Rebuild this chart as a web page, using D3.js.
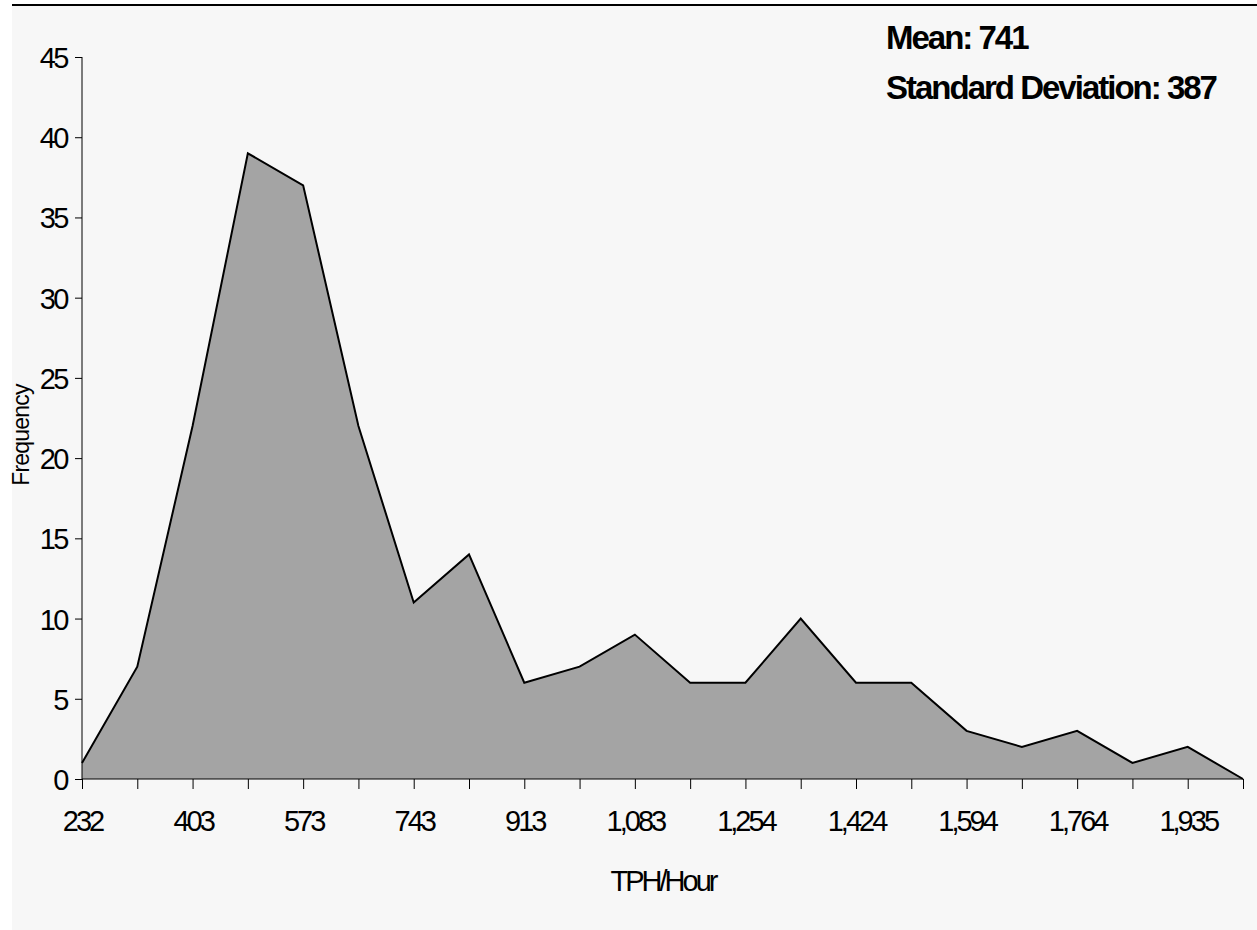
<!DOCTYPE html>
<html>
<head>
<meta charset="utf-8">
<script src="https://cdn.jsdelivr.net/npm/d3@7"></script>
<style>
  body { margin: 0; background: #fff; }
  svg text { font-family: "Liberation Sans", Arial, sans-serif; fill: #000; }
</style>
</head>
<body>
<svg id="chart" width="1257" height="930"></svg>
<script>
// bins (TPH/Hour) and counts
const bins = [232, 317, 403, 488, 573, 658, 743, 828, 913, 998, 1083, 1169, 1254, 1339, 1424, 1509, 1594, 1679, 1764, 1850, 1935, 2020];
const counts = [1, 7, 22, 39, 37, 22, 11, 14, 6, 7, 9, 6, 6, 10, 6, 6, 3, 2, 3, 1, 2, 0];
const yTicks = [0, 5, 10, 15, 20, 25, 30, 35, 40, 45];
const stats = ["Mean: 741", "Standard Deviation: 387"];

const svg = d3.select("#chart");

svg.append("rect")
  .attr("x", 12).attr("y", 6)
  .attr("width", 1245).attr("height", 924)
  .attr("fill", "#f7f7f7");
svg.append("line")
  .attr("x1", 12).attr("x2", 1257)
  .attr("y1", 5).attr("y2", 5)
  .attr("stroke", "#000").attr("stroke-width", 2);

const x = d3.scalePoint().domain(bins).range([82, 1243]);
const y = d3.scaleLinear().domain([0, 45]).range([779, 57]);

const data = bins.map((b, i) => ({ b: b, c: counts[i] }));

svg.append("path")
  .datum(data)
  .attr("fill", "#a4a4a4")
  .attr("d", d3.area().x(d => x(d.b)).y0(y(0)).y1(d => y(d.c)));

svg.append("path")
  .datum(data)
  .attr("fill", "none")
  .attr("stroke", "#000")
  .attr("stroke-width", 2)
  .attr("stroke-linejoin", "miter")
  .attr("d", d3.line().x(d => x(d.b)).y(d => y(d.c)));

// y axis
const yAxis = svg.append("g")
  .attr("transform", "translate(82,0)")
  .call(d3.axisLeft(y).tickValues(yTicks).tickSize(7).tickPadding(8));
yAxis.select(".domain").attr("stroke", "#000").attr("d", "M0,57V779");
yAxis.selectAll("text")
  .attr("font-size", 29).attr("letter-spacing", "-2.5px")
  .attr("dy", "0.36em");

// x axis
const fmt = d3.format(",");
const xAxis = svg.append("g")
  .attr("transform", "translate(0,779)")
  .call(d3.axisBottom(x).tickSize(10).tickPadding(21)
    .tickFormat((d, i) => i % 2 === 0 ? fmt(d) : ""));
xAxis.select(".domain").attr("stroke", "#000").attr("d", "M82,0H1243");
xAxis.selectAll("text")
  .attr("font-size", 29).attr("letter-spacing", "-3px")
  .attr("dy", "0.71em");

svg.append("text")
  .attr("x", 663).attr("y", 891)
  .attr("text-anchor", "middle")
  .attr("font-size", 29).attr("letter-spacing", "-3px")
  .text("TPH/Hour");

svg.append("text")
  .attr("transform", "translate(29,435) rotate(-90)")
  .attr("text-anchor", "middle")
  .attr("font-size", 23).attr("letter-spacing", "-0.8px")
  .text("Frequency");

svg.selectAll("text.stat")
  .data(stats)
  .enter().append("text")
  .attr("class", "stat")
  .attr("x", 886)
  .attr("y", (d, i) => 49 + i * 50)
  .attr("font-size", 33).attr("font-weight", "bold")
  .attr("letter-spacing", "-2px")
  .text(d => d);
</script>
</body>
</html>
